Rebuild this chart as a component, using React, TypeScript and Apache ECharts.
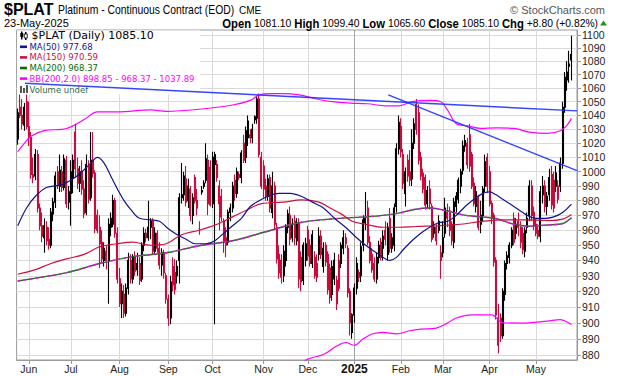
import React, { useEffect, useRef } from "react";
import * as echarts from "echarts";

type Bar = [number, number, number, number]; // open, high, low, close

const may2024: Bar[] = [
  [1023, 1045, 1019, 1042], [1046, 1058, 1038, 1040], [1040, 1052, 1030, 1034], [1033, 1049, 1029, 1046],
  [1050, 1058, 1030, 1032],
];
const jun2024: Bar[] = [
  [1032, 1050, 1018, 1024], [1024, 1028, 995, 998], [998, 1010, 992, 996], [997, 1016, 994, 1012],
  [1012, 1015, 972, 975], [975, 978, 960, 963], [963, 972, 952, 956], [955, 968, 945, 963],
  [962, 966, 950, 953], [954, 962, 947, 950], [950, 975, 948, 972], [971, 982, 966, 979],
  [979, 1000, 975, 997], [1000, 1004, 988, 991], [990, 1012, 986, 1001], [1000, 1004, 986, 989],
  [989, 1012, 987, 1009], [1008, 1011, 975, 978], [979, 990, 974, 986],
];
const jul2024: Bar[] = [
  [985, 1008, 963, 1000], [996, 1012, 985, 1008], [1028, 1034, 996, 1002], [1002, 1010, 988, 992],
  [992, 1004, 986, 1000], [1000, 1008, 984, 988], [988, 994, 968, 971], [972, 1012, 970, 1005],
  [1004, 1008, 978, 981], [982, 1028, 980, 1008], [1008, 1028, 996, 999], [999, 1001, 958, 961],
  [970, 974, 958, 960], [962, 970, 935, 951], [952, 960, 938, 941], [940, 952, 936, 948],
  [946, 950, 934, 940], [940, 968, 912, 964], [962, 972, 956, 968], [964, 984, 962, 980],
  [980, 982, 955, 958], [958, 962, 925, 928],
];
const aug2024: Bar[] = [
  [928, 935, 910, 912], [912, 925, 903, 920], [918, 924, 903, 906], [906, 925, 904, 922],
  [922, 945, 918, 940], [940, 944, 925, 928], [928, 944, 925, 942], [942, 946, 930, 933],
  [934, 945, 930, 938], [938, 942, 924, 927], [928, 952, 926, 950], [950, 962, 946, 958],
  [958, 961, 952, 955], [955, 980, 953, 962], [962, 968, 954, 966], [966, 968, 944, 946],
  [946, 962, 944, 958], [958, 960, 945, 948], [948, 952, 934, 937], [937, 948, 930, 945],
  [945, 947, 928, 932], [930, 932, 912, 915],
];
const sep2024: Bar[] = [
  [915, 918, 898, 903], [903, 930, 899, 926], [936, 942, 920, 924], [932, 941, 918, 921],
  [930, 940, 925, 936], [940, 985, 925, 982], [982, 1006, 978, 984], [984, 1000, 980, 997],
  [995, 1004, 976, 979], [980, 995, 975, 990], [988, 990, 966, 970], [970, 985, 964, 982],
  [996, 998, 978, 980], [980, 988, 970, 975], [961, 966, 957, 961], [986, 990, 984, 987],
  [990, 994, 988, 992], [994, 1020, 992, 1009], [1008, 1012, 970, 978], [1003, 1008, 976, 977],
];
const oct2024: Bar[] = [
  [978, 1014, 975, 1010], [1005, 1014, 899, 1012], [1005, 1008, 993, 996], [990, 994, 960, 978],
  [983, 988, 966, 969], [966, 968, 945, 952], [955, 962, 942, 950], [952, 974, 950, 972],
  [972, 978, 966, 975], [975, 993, 972, 990], [994, 998, 980, 985], [985, 1003, 982, 1000],
  [998, 1000, 994, 996], [996, 1015, 992, 1013], [1020, 1026, 1006, 1008], [1010, 1032, 1006, 1029],
  [1024, 1040, 1018, 1036], [1026, 1030, 1020, 1024], [1024, 1034, 1020, 1030], [1037, 1040, 1034, 1039],
  [1038, 1054, 1034, 1052], [1052, 1056, 1010, 1012], [1010, 1014, 988, 990],
];
const nov2024: Bar[] = [
  [1004, 1008, 982, 988], [990, 995, 980, 983], [983, 998, 980, 995], [996, 998, 972, 975],
  [972, 1000, 968, 990], [990, 993, 960, 964], [962, 965, 938, 941], [944, 950, 928, 932],
  [940, 944, 925, 929], [930, 950, 926, 946], [940, 964, 936, 962], [962, 974, 958, 971],
  [970, 976, 950, 954], [955, 968, 952, 964], [966, 970, 950, 955], [953, 968, 950, 964],
  [965, 968, 922, 928], [942, 946, 920, 926], [927, 952, 924, 950], [940, 955, 936, 951],
];
const dec2024: Bar[] = [
  [960, 963, 940, 943], [950, 954, 936, 938], [938, 960, 935, 957], [942, 946, 928, 930],
  [938, 944, 926, 929], [944, 962, 940, 956], [956, 960, 941, 944], [936, 952, 932, 948],
  [950, 952, 936, 939], [944, 946, 918, 921], [935, 938, 912, 916], [918, 940, 914, 936],
  [928, 945, 924, 940], [912, 930, 908, 927], [940, 944, 920, 922], [938, 952, 935, 950],
  [948, 960, 944, 955], [955, 958, 948, 951], [948, 950, 916, 919], [920, 922, 892, 900],
  [894, 906, 890, 905],
];
const jan2025: Bar[] = [
  [905, 925, 900, 922], [922, 942, 918, 938], [932, 934, 926, 929], [930, 952, 926, 949],
  [950, 970, 946, 967], [965, 986, 960, 968], [975, 980, 950, 952], [952, 956, 938, 940],
  [944, 948, 932, 934], [938, 942, 926, 928], [928, 945, 925, 942], [942, 953, 938, 950],
  [952, 955, 940, 942], [948, 960, 940, 956], [960, 966, 950, 954], [944, 965, 940, 962],
  [968, 975, 945, 948], [948, 958, 945, 955], [950, 978, 946, 975], [976, 1020, 972, 1016],
  [1016, 1040, 1012, 1035],
];
const feb2025: Bar[] = [
  [1032, 1038, 1010, 1014], [1012, 1016, 988, 992], [985, 1003, 976, 1000], [1008, 1012, 993, 997],
  [1000, 1015, 990, 994], [995, 1030, 990, 1020], [1020, 1038, 1016, 1034], [1048, 1052, 1026, 1030],
  [1042, 1048, 1005, 1008], [1010, 1014, 994, 997], [999, 1002, 985, 988], [996, 998, 974, 977],
  [978, 990, 975, 987], [988, 994, 974, 978], [976, 978, 952, 954], [958, 966, 955, 962],
  [962, 964, 950, 953], [966, 970, 958, 960], [945, 950, 928, 940],
];
const mar2025: Bar[] = [
  [945, 966, 942, 955], [958, 982, 955, 975], [968, 978, 962, 972], [973, 976, 956, 960],
  [964, 966, 950, 953], [952, 982, 948, 979], [976, 986, 972, 983], [981, 996, 978, 994],
  [990, 1002, 985, 1000], [1001, 1022, 998, 1018], [1018, 1026, 1014, 1022], [1020, 1024, 1002, 1005],
  [1026, 1034, 1000, 1004], [1012, 1014, 988, 990], [992, 996, 976, 978], [976, 990, 972, 986],
  [982, 984, 960, 962], [964, 980, 958, 970], [970, 990, 966, 988], [990, 1012, 986, 1007],
  [1010, 1013, 985, 990],
];
const apr2025: Bar[] = [
  [1000, 1004, 976, 978], [978, 980, 964, 968], [970, 972, 936, 939], [940, 942, 902, 905],
  [886, 912, 881, 903], [903, 906, 888, 892], [892, 922, 890, 920], [918, 940, 914, 938],
  [938, 946, 934, 943], [942, 952, 938, 950], [950, 962, 948, 960], [968, 972, 950, 952],
  [958, 968, 954, 964], [966, 972, 956, 962], [962, 966, 948, 952], [958, 962, 944, 947],
  [946, 962, 942, 960], [962, 972, 958, 968], [970, 994, 966, 990], [990, 994, 966, 970],
  [972, 976, 960, 963],
];
const may2025: Bar[] = [
  [964, 968, 956, 958], [960, 964, 954, 956], [956, 990, 952, 986], [984, 997, 978, 990],
  [990, 994, 972, 976], [976, 986, 970, 983], [984, 1002, 980, 996], [998, 1004, 974, 977],
  [994, 1000, 972, 975], [990, 1004, 986, 999], [990, 994, 978, 981], [990, 1010, 986, 1006],
  [1006, 1050, 1002, 1046], [1046, 1072, 1042, 1068], [1066, 1080, 1058, 1072], [1078, 1088, 1064, 1076.3],
  [1081.1, 1099.4, 1065.6, 1085.1],
];

const monthBars: Bar[][] = [
  may2024, jun2024, jul2024, aug2024, sep2024, oct2024, nov2024,
  dec2024, jan2025, feb2025, mar2025, apr2025, may2025,
];
const monthLabels = ["", "Jun", "Jul", "Aug", "Sep", "Oct", "Nov", "Dec", "2025", "Feb", "Mar", "Apr", "May"];
const yTicks = [880, 890, 900, 910, 920, 930, 940, 950, 960, 970, 980, 990, 1000, 1010, 1020, 1030, 1040, 1050, 1060, 1070, 1080, 1090, 1100];

// [bar index, value]
const ma50: [number, number][] = [
  [0, 963], [4, 975], [8, 983], [13, 989], [20, 991], [25, 995], [29, 1000], [33, 1006], [36, 1010],
  [39, 1006], [42, 997], [45, 988], [48, 980], [51, 974], [55, 968], [60, 967], [64, 966], [68, 961],
  [72, 957], [76, 954], [80, 951], [85, 951], [89, 953], [93, 958], [97, 963], [101, 968], [105, 976],
  [109, 980], [113, 983], [118, 985], [123, 985], [128, 983], [133, 979], [138, 975], [143, 968],
  [148, 962], [153, 955], [158, 949], [163, 944], [168, 940], [171, 942], [174, 947], [178, 953],
  [182, 958], [186, 962], [190, 965], [194, 966], [198, 970], [202, 976], [206, 981], [210, 985],
  [213, 986], [216, 984], [219, 981], [222, 978], [226, 974], [230, 970], [234, 968], [238, 968],
  [242, 969], [246, 972], [250, 977.68],
];
const ma150: [number, number][] = [
  [0, 931], [8, 934], [15, 938], [22, 941], [30, 944], [37, 949], [45, 951], [52, 952], [60, 950],
  [67, 951], [74, 957], [82, 960], [90, 964], [97, 969], [104, 974], [110, 978], [120, 979],
  [128, 980.5], [136, 979], [141, 975], [146, 971], [151, 966], [157, 964], [165, 962], [172, 962],
  [180, 962.5], [190, 963], [200, 964], [210, 966], [220, 967], [230, 967], [240, 966.5], [246, 967.5],
  [250, 970.59],
];
const ma200: [number, number][] = [
  [0, 926.6], [22, 932], [37, 938], [52, 942.5], [67, 945], [82, 949.7], [97, 953], [112, 959],
  [127, 965], [142, 967.6], [157, 969], [165, 970], [172, 971.5], [179, 974], [186, 975], [194, 973],
  [201, 970.3], [209, 969], [216, 967.8], [224, 964], [231, 962.7], [239, 963.5], [246, 964.5],
  [250, 968.37],
];
const bbUpper: [number, number][] = [
  [0, 1014], [3, 1020], [6, 1025], [12, 1029], [22, 1030.6], [30, 1037], [36, 1042.6], [45, 1042.6],
  [60, 1044], [67, 1043], [82, 1044.5], [97, 1047.6], [105, 1051], [109, 1055], [115, 1056],
  [120, 1056], [127, 1055], [135, 1052], [142, 1050], [150, 1049], [158, 1048.5], [166, 1047],
  [172, 1047], [178, 1050], [186, 1051], [191, 1050], [194, 1044], [198, 1034], [203, 1032.5],
  [209, 1030.6], [216, 1031], [224, 1030.6], [231, 1028], [239, 1027], [245, 1029], [248, 1033],
  [250, 1037.89],
];
const bbLower: [number, number][] = [
  [118, 866], [125, 872], [131, 877.5], [138, 880.3], [144, 885.5], [148, 887.7], [152, 886],
  [156, 890], [160, 893], [165, 894], [171, 893], [177, 895], [182, 896], [189, 896.7], [194, 899.8],
  [198, 903], [205, 905], [214, 905], [219, 900], [227, 899.8], [239, 901], [245, 902], [248, 900.5],
  [250, 898.85],
];
const trendA: [number, number][] = [[3.3, 1063.6], [252.5, 1043.3]];
const trendB: [number, number][] = [[167.3, 1055.0], [252.5, 1000.8]];

const PAD_SLOTS = 2;
const UI = '"DejaVu Sans", Verdana, sans-serif';
const HF = '"Liberation Sans", Arial, sans-serif';
const RED = "#cc0a3c";

export default function App() {
  const ref = useRef<HTMLDivElement>(null);
  useEffect(() => {
    document.body.style.margin = "0";
    const chart = echarts.init(ref.current as HTMLDivElement, undefined, { renderer: "svg" });
    const bars = monthBars.flat();
    const total = bars.length + PAD_SLOTS;
    const cats = Array.from({ length: total }, (_, i) => String(i));
    const starts: number[] = [];
    let acc = 0;
    monthBars.forEach((m) => {
      starts.push(acc);
      acc += m.length;
    });
    const labelAt: Record<number, string> = {};
    const gridStarts: number[] = [];
    starts.forEach((s, k) => {
      if (monthLabels[k]) {
        labelAt[s] = monthLabels[k];
        gridStarts.push(s);
      }
    });
    const L = Math.log;
    const candles = bars.map((b, i) => {
      const [o, h, l, c] = b;
      const prev = i > 0 ? bars[i - 1][3] : o;
      const col = c >= prev ? "#000000" : RED;
      return {
        value: [L(o), L(c), L(l), L(h)],
        itemStyle: { color: "#ffffff", color0: col, borderColor: col, borderColor0: col },
      };
    });
    const toLine = (pts: [number, number][]) => pts.map(([x, v]) => [x, L(v)]);
    const line = (pts: [number, number][], color: string, width: number, extra: any = {}, z = 4, smooth: any = 0.35) => ({
      type: "line",
      xAxisIndex: 1,
      yAxisIndex: 0,
      data: toLine(pts),
      symbol: "none",
      smooth,
      silent: true,
      z,
      lineStyle: { color, width, ...extra },
    });
    const yVals = yTicks.map((v) => L(v));

    const legendRows = [
      { text: "MA(50) 977.68", color: "#14148c" },
      { text: "MA(150) 970.59", color: "#cc1040" },
      { text: "MA(200) 968.37", color: "#0a6a0a" },
      { text: "BB(200,2.0) 898.85 - 968.37 - 1037.89", color: "#ff00ff" },
    ];
    const graphic: any[] = [
      { type: "text", x: 4, y: 9.5, z: 20, style: { text: "$PLAT", fontFamily: HF, fontWeight: "bold", fontSize: 16, fill: "#000", verticalAlign: "middle" } },
      { type: "text", x: 58, y: 10, z: 20, scaleX: 0.83, style: { text: "Platinum - Continuous Contract (EOD)", fontFamily: HF, fontSize: 12.5, fill: "#000", verticalAlign: "middle" } },
      { type: "text", x: 239, y: 10.5, z: 20, style: { text: "CME", fontFamily: HF, fontSize: 10, fill: "#000", verticalAlign: "middle" } },
      { type: "text", x: 605, y: 9.5, z: 20, style: { text: "© StockCharts.com", fontFamily: HF, fontSize: 11, fill: "#555", align: "right", verticalAlign: "middle" } },
      { type: "text", x: 4, y: 23, z: 20, style: { text: "23-May-2025", fontFamily: HF, fontSize: 11, fill: "#000", verticalAlign: "middle" } },
      {
        type: "text", x: 598, y: 23, z: 20, scaleX: 0.94,
        style: {
          text: "{b|Open} 1081.10 {b|High} 1099.40 {b|Low} 1065.60 {b|Close} 1085.10 {b|Chg} +8.80 (+0.82%)",
          fontFamily: HF, fontSize: 11, fill: "#000", align: "right", verticalAlign: "middle",
          rich: { b: { fontFamily: HF, fontSize: 12, fontWeight: "bold", fill: "#000" } },
        },
      },
      { type: "polygon", z: 20, shape: { points: [[600, 25.5], [607, 25.5], [603.5, 20.5]] }, style: { fill: "#1a9a1a" } },
      { type: "rect", z: 15, shape: { x: 17, y: 30.6, width: 183, height: 63.8 }, style: { fill: "#ffffff" } },
      { type: "rect", z: 16, shape: { x: 21, y: 31.5, width: 1.5, height: 8 }, style: { fill: "#000" } },
      { type: "rect", z: 16, shape: { x: 20.3, y: 33, width: 3, height: 4 }, style: { fill: "#000" } },
      { type: "rect", z: 16, shape: { x: 25, y: 32, width: 1.5, height: 8 }, style: { fill: "#000" } },
      { type: "rect", z: 16, shape: { x: 24.3, y: 34, width: 3, height: 4 }, style: { fill: "#fff", stroke: "#000", lineWidth: 0.8 } },
      { type: "text", x: 31.5, y: 35.5, z: 16, style: { text: "$PLAT (Daily) 1085.10", fontFamily: UI, fontSize: 11, fill: "#000", verticalAlign: "middle" } },
      { type: "rect", z: 16, shape: { x: 20, y: 86, width: 2, height: 7 }, style: { fill: "#555" } },
      { type: "rect", z: 16, shape: { x: 23, y: 88, width: 2, height: 5 }, style: { fill: "#555" } },
      { type: "rect", z: 16, shape: { x: 26, y: 85, width: 2, height: 8 }, style: { fill: "#555" } },
      { type: "text", x: 29.5, y: 89.7, z: 16, style: { text: "Volume undef", fontFamily: UI, fontSize: 8.5, fill: "#2f6a4a", verticalAlign: "middle" } },
    ];
    legendRows.forEach((r, k) => {
      const y = 46.7 + k * 10.6;
      graphic.push({ type: "rect", z: 16, shape: { x: 20, y: y - 1.2, width: 7, height: 2.6 }, style: { fill: r.color } });
      graphic.push({ type: "text", x: 29.5, y, z: 16, style: { text: r.text, fontFamily: UI, fontSize: 8.5, fill: r.color, verticalAlign: "middle" } });
    });

    chart.setOption({
      animation: false,
      backgroundColor: "#ffffff",
      grid: { left: 16.6, right: 43, top: 30, bottom: 16, show: true, borderColor: "#9a9a9a", borderWidth: 1, backgroundColor: "transparent" },
      xAxis: [
        { type: "category", data: cats, boundaryGap: true, show: false },
        {
          type: "value", min: -0.5, max: total - 0.5, position: "bottom",
          axisLine: { show: true, onZero: false, lineStyle: { color: "#9a9a9a" } },
          axisTick: { show: true, customValues: gridStarts, length: 4, lineStyle: { color: "#9a9a9a" } },
          axisLabel: {
            customValues: gridStarts,
            formatter: (v: number) => {
              const t = labelAt[Math.round(v)] || "";
              return t === "2025" ? "{y|2025}" : t;
            },
            fontFamily: HF, fontSize: 10.5, color: "#222", margin: 3,
            rich: { y: { fontFamily: HF, fontSize: 12, fontWeight: "bold", color: "#111" } },
          },
          splitLine: { show: true, lineStyle: { color: gridStarts.map((s) => (labelAt[s] === "2025" ? "#a6a6a6" : "#dadada")), width: 1 } },
        },
      ],
      yAxis: {
        type: "value", position: "right", min: L(876.94), max: L(1103.84),
        axisLine: { show: true, onZero: false, lineStyle: { color: "#9a9a9a" } },
        axisTick: { show: true, customValues: yVals, length: 4, lineStyle: { color: "#9a9a9a" } },
        axisLabel: { customValues: yVals, formatter: (v: number) => String(Math.round(Math.exp(v))), fontFamily: HF, fontSize: 10.5, color: "#222", margin: 5 },
        splitLine: { show: true, lineStyle: { color: "#dadada", width: 1 } },
      },
      graphic,
      series: [
        line(bbLower, "#ff00ff", 1.2),
        line(bbUpper, "#ff00ff", 1.2),
        line(ma200, "#0a7a0a", 1.4),
        line(ma200, "#ff00ff", 1.4, { type: [3, 3] }),
        line(ma150, "#cc1040", 1.2),
        line(ma50, "#14148c", 1.2),
        {
          type: "candlestick",
          xAxisIndex: 0,
          yAxisIndex: 0,
          data: candles,
          barWidth: 1.5,
          silent: true,
          z: 3,
          itemStyle: { borderWidth: 1.1 },
        },
        line(trendA, "#1e32ff", 1.4, { opacity: 0.9 }, 30, false),
        line(trendB, "#1e32ff", 1.4, { opacity: 0.9 }, 30, false),
      ],
    });
    return () => chart.dispose();
  }, []);
  return <div ref={ref} style={{ width: 620, height: 376 }} />;
}
